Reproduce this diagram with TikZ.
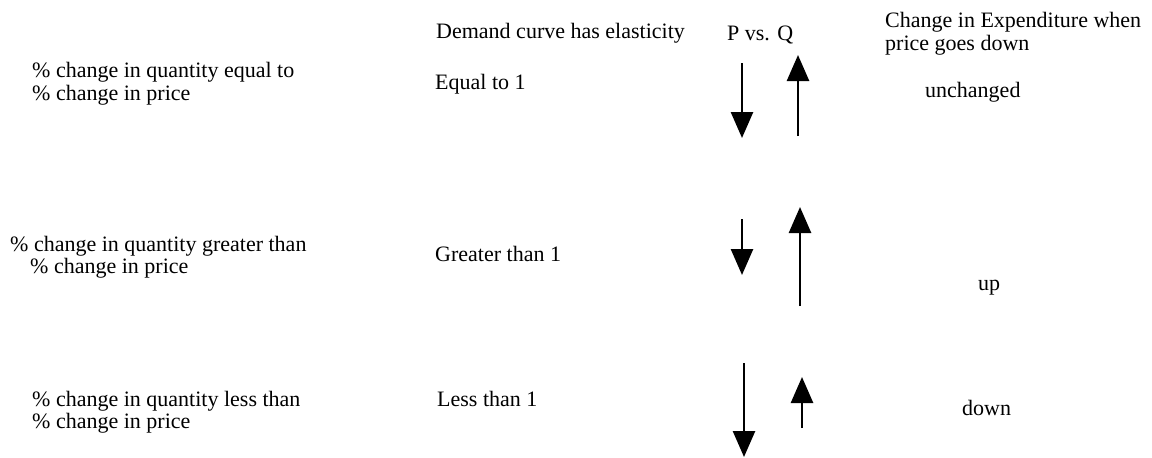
\documentclass[tikz,border=0pt]{standalone}
\usepackage{fontspec}
\setmainfont{Liberation Serif}
\usetikzlibrary{arrows.meta}
\begin{document}
\begin{tikzpicture}[x=1pt,y=-1pt,
  txt/.style={anchor=base west,inner sep=0pt,font=\fontsize{22}{23}\selectfont},
  arr/.style={line width=2.6pt,-{Triangle[width=22pt,length=26pt]}}]
\useasboundingbox[fill=white] (0,0) rectangle (1152,458);
% headers
\node[txt] (hdem) at (436,38) {Demand curve has elasticity};
\node[txt] (hpq) at (727,40) {P vs. Q};
\node[txt] (hexa) at (885,27) {Change in Expenditure when};
\node[txt] (hexb) at (885,50) {price goes down};
% row 1
\node[txt] (r1a) at (32,77) {\% change in quantity equal to};
\node[txt] (r1b) at (32,100) {\% change in price};
\node[txt] (r1e) at (435,89) {Equal to 1};
\node[txt] (r1x) at (925,97) {unchanged};
% row 2
\node[txt] (r2a) at (10,251) {\% change in quantity greater than};
\node[txt] (r2b) at (30,273) {\% change in price};
\node[txt] (r2e) at (435,261) {Greater than 1};
\node[txt] (r2x) at (978,290) {up};
% row 3
\node[txt] (r3a) at (32,406) {\% change in quantity less than};
\node[txt] (r3b) at (32,428) {\% change in price};
\node[txt] (r3e) at (437,406) {Less than 1};
\node[txt] (r3x) at (962,415) {down};
% arrow end points
\coordinate (p1s) at (742,63);  \coordinate (p1e) at (742,138);
\coordinate (q1s) at (798,136); \coordinate (q1e) at (798,55);
\coordinate (p2s) at (742,219); \coordinate (p2e) at (742,275);
\coordinate (q2s) at (800,306); \coordinate (q2e) at (800,207);
\coordinate (p3s) at (744,363); \coordinate (p3e) at (744,457);
\coordinate (q3s) at (802,428); \coordinate (q3e) at (802,377);
\draw[arr] (p1s) -- (p1e);
\draw[arr] (q1s) -- (q1e);
\draw[arr] (p2s) -- (p2e);
\draw[arr] (q2s) -- (q2e);
\draw[arr] (p3s) -- (p3e);
\draw[arr] (q3s) -- (q3e);
\end{tikzpicture}
\end{document}
